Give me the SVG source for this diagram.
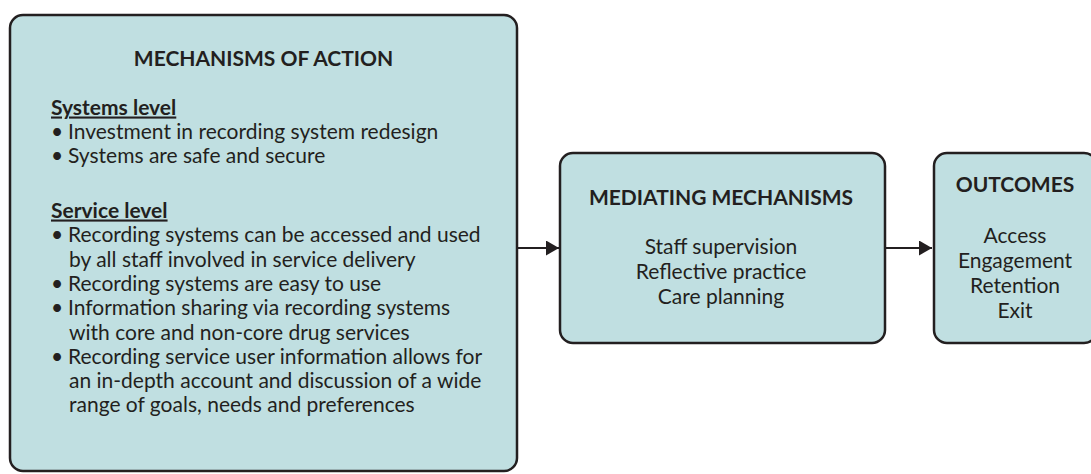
<svg xmlns="http://www.w3.org/2000/svg" width="1091" height="474" viewBox="0 0 1091 474">
  <style>
    .box { fill: #c0dfe1; stroke: #231f20; stroke-width: 2.5; }
    .title { font-family: Lato, "Liberation Sans", sans-serif; font-weight: bold; font-size: 21px; fill: #231f20; }
    .body { font-family: Lato, "Liberation Sans", sans-serif; font-size: 21px; fill: #231f20; }
    .head { font-weight: bold; text-decoration: underline; }
    .mid { text-anchor: middle; }
    .link { stroke: #231f20; stroke-width: 2.2; fill: none; marker-end: url(#arrow); }
  </style>
  <defs>
    <marker id="arrow" markerWidth="13" markerHeight="15" refX="13" refY="7.5" orient="auto" markerUnits="userSpaceOnUse">
      <path d="M0,0 L13,7.5 L0,15 Z" fill="#231f20"/>
    </marker>
  </defs>

  <rect width="1091" height="474" fill="#ffffff"/>

  <!-- Connectors -->
  <g id="connectors">
    <line class="link" x1="518" y1="248" x2="559" y2="248"/>
    <line class="link" x1="886" y1="248" x2="932" y2="248"/>
  </g>

  <!-- Mechanisms of action -->
  <g id="mechanisms-of-action">
    <rect class="box" x="10" y="15" width="507" height="456" rx="13"/>
    <text class="title mid" x="263.5" y="65.5">MECHANISMS OF ACTION</text>
    <text class="body head" x="51" y="114.5">Systems level </text>
    <text class="body"><tspan x="51" y="139">•</tspan><tspan x="68" y="139">Investment in recording system redesign</tspan></text>
    <text class="body"><tspan x="51" y="163">•</tspan><tspan x="68" y="163">Systems are safe and secure</tspan></text>
    <text class="body head" x="51" y="217.5">Service level </text>
    <text class="body"><tspan x="51" y="242">•</tspan><tspan x="68" y="242">Recording systems can be accessed and used</tspan></text>
    <text class="body" x="69" y="266.5">by all staff involved in service delivery</text>
    <text class="body"><tspan x="51" y="291">•</tspan><tspan x="68" y="291">Recording systems are easy to use</tspan></text>
    <text class="body"><tspan x="51" y="315">•</tspan><tspan x="68" y="315">Information sharing via recording systems</tspan></text>
    <text class="body" x="69" y="339.5">with core and non-core drug services</text>
    <text class="body"><tspan x="51" y="364">•</tspan><tspan x="68" y="364">Recording service user information allows for</tspan></text>
    <text class="body" x="69" y="388">an in-depth account and discussion of a wide</text>
    <text class="body" x="69" y="412">range of goals, needs and preferences</text>
  </g>

  <!-- Mediating mechanisms -->
  <g id="mediating-mechanisms">
    <rect class="box" x="560" y="153" width="325" height="190" rx="13"/>
    <text class="title mid" x="721" y="204.5">MEDIATING MECHANISMS</text>
    <text class="body mid" x="721" y="254">Staff supervision</text>
    <text class="body mid" x="721" y="279">Reflective practice</text>
    <text class="body mid" x="721" y="304">Care planning</text>
  </g>

  <!-- Outcomes -->
  <g id="outcomes">
    <rect class="box" x="934" y="153" width="163" height="190" rx="13"/>
    <text class="title mid" x="1015" y="192">OUTCOMES</text>
    <text class="body mid" x="1015" y="243">Access</text>
    <text class="body mid" x="1015" y="268">Engagement</text>
    <text class="body mid" x="1015" y="293">Retention</text>
    <text class="body mid" x="1015" y="318">Exit</text>
  </g>
</svg>
